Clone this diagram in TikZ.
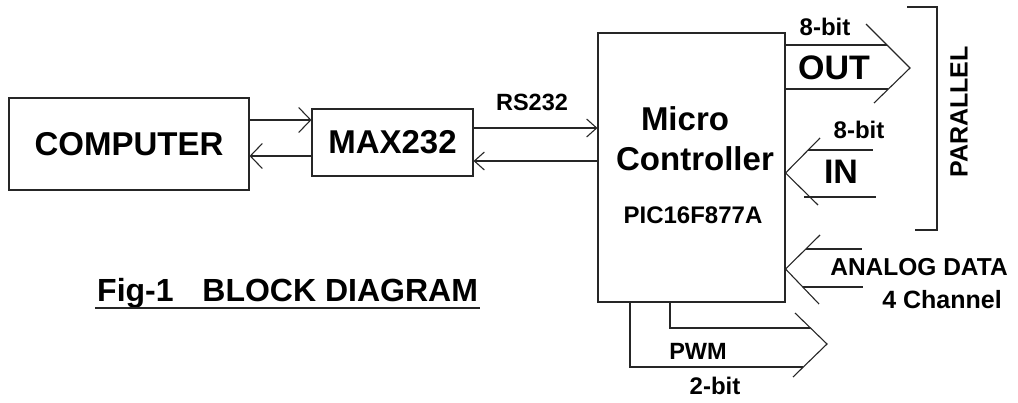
\documentclass[tikz,border=0pt]{standalone}
\usepackage{fontspec}
\setmainfont{Liberation Sans}
\usetikzlibrary{arrows.meta,calc}
\begin{document}
\begin{tikzpicture}[x=1pt,y=-1pt,
  ln/.style={line width=1.1pt, draw=black!85},
  box/.style={ln, rectangle, inner sep=0pt, font=\fontsize{33}{36}\selectfont\bfseries},
  lbl/.style={inner sep=0pt, font=\fontsize{#1}{#1}\selectfont\bfseries},
  arrA/.style={ln,-{Straight Barb[length=12pt,width=25pt]}},
  arrB/.style={ln,-{Straight Barb[length=10pt,width=18pt]}}]
\useasboundingbox (0,0) rectangle (1018,402);
% blocks
\node[box, minimum width=240pt, minimum height=92pt] (comp) at (129,144) {COMPUTER};
\node[box, minimum width=161pt, minimum height=67pt] (max) at (392.5,142.5) {MAX232};
\node[ln, rectangle, inner sep=0pt, minimum width=187pt, minimum height=269pt] (micro) at (691.5,167.5) {};
\node[lbl=33] (m1) at (685,119) {Micro};
\node[lbl=33] (m2) at (695,159) {Controller};
\node[lbl=24] (pic) at (693,215) {PIC16F877A};
% serial links
\draw[arrA] (comp.east |- 0,120) -- (max.west |- 0,120);
\draw[arrA] (max.west |- 0,156) -- (comp.east |- 0,156);
\draw[arrB] (max.east |- 0,128) -- (micro.west |- 0,128);
\draw[arrB] (micro.west |- 0,161) -- (max.east |- 0,161);
\node[lbl=23.5] (rs) at (532,102) {RS232};
% OUT bus
\draw[ln] (micro.east |- 0,45) -- (887,45);
\draw[ln] (micro.east |- 0,89) -- (888,89);
\draw[ln] (866,24) -- (910,68) -- (874,103);
\node[lbl=24] (b8a) at (825,27) {8-bit};
\node[lbl=34] (out) at (834,68) {OUT};
% IN bus
\draw[ln] (820,138) -- (micro.east |- 0,173) -- (818,205);
\draw[ln] (808,150) -- (873,150);
\draw[ln] (804,197) -- (876,197);
\node[lbl=24] (b8b) at (859,130) {8-bit};
\node[lbl=34] (in) at (841,172) {IN};
% parallel bracket
\draw[ln] (907,7) -- (937,7) -- (937,230) -- (915,230);
\node[lbl=25, rotate=90] (par) at (959,112) {PARALLEL};
% analog
\draw[ln] (820,235) -- (micro.east |- 0,269) -- (819,304);
\draw[ln] (806,249) -- (862,249);
\draw[ln] (803,287) -- (863,287);
\node[lbl=24.5] (ana) at (919,267) {ANALOG DATA};
\node[lbl=25] (ch) at (942,300) {4 Channel};
% PWM
\draw[ln] (micro.south -| 630,0) |- (803,367);
\draw[ln] (micro.south -| 670,0) |- (810,328);
\draw[ln] (795,313) -- (827,344) -- (793,377);
\node[lbl=23.5] (pwm) at (698,351) {PWM};
\node[lbl=24] (b2) at (715,386) {2-bit};
% caption
\node[lbl=32, anchor=base west] (fig) at (97,301) {Fig-1\hspace{0.9em}BLOCK DIAGRAM};
\draw[ln] ($(fig.base west)+(-2,7)$) -- ($(fig.base east)+(2,7)$);
\end{tikzpicture}
\end{document}
